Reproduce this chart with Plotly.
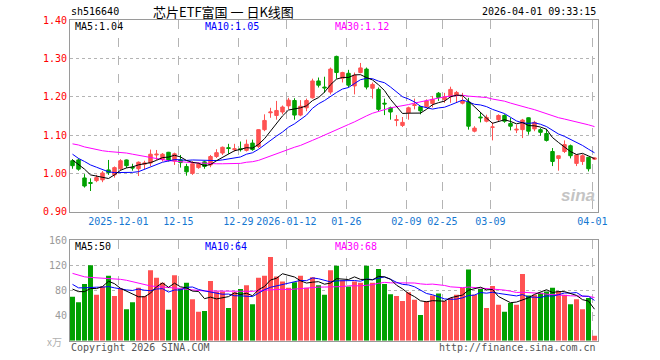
import plotly.graph_objects as go
import pandas as pd

# ---------------- data ----------------
opens = [1.033, 1.035, 0.988, 0.976, 0.981, 0.983, 1.009, 0.996, 1.012, 1.035,
         1.016, 1.012, 1.024, 1.027, 1.048, 1.036, 1.055, 1.032, 1.035, 1.018,
         1.000, 1.015, 1.030, 1.022, 1.044, 1.053, 1.067, 1.062, 1.064, 1.060,
         1.079, 1.070, 1.114, 1.158, 1.151, 1.160, 1.176, 1.190, 1.152, 1.171,
         1.197, 1.241, 1.225, 1.212, 1.305, 1.248, 1.261, 1.228, 1.263, 1.272,
         1.222, 1.219, 1.183, 1.171, 1.138, 1.125, 1.158, 1.177, 1.174, 1.174,
         1.182, 1.209, 1.193, 1.200, 1.204, 1.183, 1.186, 1.110, 1.147, 1.136,
         1.120, 1.140, 1.151, 1.130, 1.113, 1.114, 1.145, 1.116, 1.114, 1.104,
         1.057, 1.039, 1.057, 1.072, 1.026, 1.031, 1.042, 1.037]
highs = [1.037, 1.039, 0.998, 0.987, 0.996, 1.006, 1.035, 1.018, 1.037, 1.036,
         1.025, 1.031, 1.033, 1.062, 1.061, 1.053, 1.056, 1.054, 1.048, 1.025,
         1.032, 1.028, 1.033, 1.048, 1.063, 1.070, 1.077, 1.077, 1.083, 1.088,
         1.088, 1.115, 1.154, 1.171, 1.189, 1.177, 1.197, 1.196, 1.191, 1.195,
         1.247, 1.250, 1.252, 1.276, 1.307, 1.265, 1.270, 1.263, 1.288, 1.276,
         1.237, 1.224, 1.195, 1.174, 1.152, 1.147, 1.174, 1.195, 1.176, 1.193,
         1.202, 1.212, 1.210, 1.226, 1.215, 1.210, 1.197, 1.123, 1.160, 1.153,
         1.133, 1.154, 1.154, 1.145, 1.127, 1.142, 1.146, 1.137, 1.118, 1.116,
         1.066, 1.046, 1.086, 1.075, 1.050, 1.050, 1.043, 1.042]
lows = [1.012, 1.007, 0.963, 0.954, 0.977, 0.977, 0.996, 0.989, 1.007, 1.014,
        1.007, 0.993, 1.011, 1.019, 1.035, 1.031, 1.031, 1.022, 1.015, 0.994,
        0.996, 1.012, 1.012, 1.016, 1.040, 1.048, 1.051, 1.057, 1.057, 1.057,
        1.059, 1.066, 1.110, 1.145, 1.140, 1.154, 1.167, 1.140, 1.149, 1.162,
        1.195, 1.224, 1.210, 1.206, 1.247, 1.237, 1.224, 1.206, 1.261, 1.219,
        1.195, 1.162, 1.152, 1.140, 1.123, 1.121, 1.140, 1.167, 1.154, 1.171,
        1.172, 1.189, 1.184, 1.184, 1.184, 1.180, 1.114, 1.107, 1.133, 1.133,
        1.086, 1.136, 1.132, 1.112, 1.105, 1.092, 1.101, 1.110, 1.098, 1.083,
        1.019, 1.007, 1.053, 1.039, 1.019, 1.022, 1.005, 1.035]
closes = [1.020, 1.011, 0.967, 0.974, 0.989, 1.001, 1.002, 1.015, 1.033, 1.020,
          1.014, 1.029, 1.027, 1.050, 1.050, 1.050, 1.035, 1.051, 1.028, 1.004,
          1.025, 1.024, 1.018, 1.044, 1.054, 1.068, 1.065, 1.064, 1.062, 1.076,
          1.062, 1.114, 1.138, 1.160, 1.164, 1.173, 1.191, 1.152, 1.175, 1.190,
          1.241, 1.230, 1.223, 1.272, 1.263, 1.263, 1.230, 1.256, 1.275, 1.225,
          1.232, 1.167, 1.181, 1.160, 1.140, 1.133, 1.171, 1.179, 1.163, 1.189,
          1.193, 1.198, 1.199, 1.219, 1.211, 1.189, 1.123, 1.118, 1.145, 1.146,
          1.121, 1.151, 1.136, 1.123, 1.115, 1.139, 1.110, 1.133, 1.107, 1.086,
          1.031, 1.046, 1.075, 1.046, 1.048, 1.046, 1.012, 1.040]
volumes = [70, 61, 90, 120, 73, 86, 103, 71, 83, 50,
           61, 84, 71, 112, 100, 92, 49, 104, 83, 92,
           66, 46, 47, 95, 78, 78, 52, 77, 82, 88,
           58, 100, 103, 133, 102, 94, 84, 93, 103, 84,
           101, 88, 73, 112, 119, 96, 86, 94, 92, 119,
           92, 114, 90, 74, 71, 63, 77, 65, 41, 63,
           72, 75, 63, 68, 73, 84, 113, 73, 82, 52,
           87, 57, 46, 60, 57, 106, 72, 73, 76, 78,
           84, 79, 73, 58, 66, 50, 68, 8]

ma5_head = [1.035, 1.024, 1.011, 0.996]
ma10_head = [1.050, 1.039, 1.031, 1.022, 1.016, 1.009, 1.004, 1.002, 1.002]
ma30_head = [1.077, 1.074, 1.069, 1.065, 1.062, 1.059, 1.057, 1.056, 1.055, 1.053,
             1.050, 1.047, 1.043, 1.040, 1.038, 1.035, 1.033, 1.032, 1.030, 1.029,
             1.028, 1.027, 1.026, 1.025, 1.025, 1.025, 1.025, 1.025, 1.026]
vma5_head = [82, 78, 78, 83]
vma10_head = [89.5, 84, 84, 85, 85, 85, 86, 84, 82]
vma30_head = [107, 104, 101.5, 100.5, 100, 99, 98.5, 98, 97.5, 96,
              93.5, 91, 88.5, 87, 86, 85.5, 85, 84, 83, 81.5,
              80.5, 79.5, 79, 79, 79, 79, 79, 79, 79]

tick_idx = [8, 18, 28, 36, 46, 56, 62, 70, 87]
tick_labels = ["2025-12-01", "12-15", "12-29", "2026-01-12", "01-26",
               "02-09", "02-25", "03-09", "04-01"]
price_ticks = [0.90, 1.00, 1.10, 1.20, 1.30, 1.40]
vol_ticks = [40, 80, 120, 160]

title_code = "sh516640"
title_name = "芯片ETF富国 一 日K线图"
timestamp = "2026-04-01 09:33:15"
price_ma_text = ["MA5:1.04", "MA10:1.05", "MA30:1.12"]
vol_ma_text = ["MA5:50", "MA10:64", "MA30:68"]

# ---------------- helpers ----------------
def moving_avg(vals, n, head):
    s = pd.Series(vals, dtype=float).rolling(n).mean().tolist()
    return list(head) + s[len(head):]

W, H = 660, 360
X0, X1 = 70, 598
PY0, PY1 = 20, 211.7
VY0, VY1 = 240, 340.7

RED = "#ff5252"
GREEN = "#00a000"
MONO = "DejaVu Sans Mono, Liberation Mono, monospace"
GRID = "#b4b4b4"
BORDER = "#9a9a9a"

idx = list(range(len(closes)))
ma5 = moving_avg(closes, 5, ma5_head)
ma10 = moving_avg(closes, 10, ma10_head)
ma30 = moving_avg(closes, 30, ma30_head)
vma5 = moving_avg(volumes, 5, vma5_head)
vma10 = moving_avg(volumes, 10, vma10_head)
vma30 = moving_avg(volumes, 30, vma30_head)
vol_colors = [RED if c >= o else GREEN for o, c in zip(opens, closes)]

fig = go.Figure()
fig.add_trace(go.Candlestick(
    x=idx, open=opens, high=highs, low=lows, close=closes,
    increasing=dict(line=dict(color=RED, width=1), fillcolor=RED),
    decreasing=dict(line=dict(color=GREEN, width=1), fillcolor=GREEN),
    whiskerwidth=0, hoverinfo="skip", xaxis="x", yaxis="y", showlegend=False))
for vals, col in [(ma30, "#ff00ff"), (ma10, "#0000ff"), (ma5, "#000000")]:
    fig.add_trace(go.Scatter(x=idx, y=vals, mode="lines", line=dict(color=col, width=1),
                             hoverinfo="skip", xaxis="x", yaxis="y", showlegend=False))

fig.add_trace(go.Bar(x=idx, y=volumes, marker=dict(color=vol_colors, line=dict(width=0)),
                     hoverinfo="skip", xaxis="x2", yaxis="y2", showlegend=False))
for vals, col in [(vma30, "#ff00ff"), (vma10, "#0000ff"), (vma5, "#000000")]:
    fig.add_trace(go.Scatter(x=idx, y=vals, mode="lines", line=dict(color=col, width=1),
                             hoverinfo="skip", xaxis="x2", yaxis="y2", showlegend=False))

n = len(closes)
xr = [-0.4167, n - 0.4167]
grid_pos = [i - 0.35 for i in tick_idx]
xdom = [X0 / W, X1 / W]

common_x = dict(domain=xdom, range=xr, showgrid=True, gridcolor=GRID, griddash="dash",
                gridwidth=1, zeroline=False, showline=True, mirror=True, linecolor=BORDER,
                linewidth=1, ticks="", tickvals=grid_pos, fixedrange=True, automargin=False)
common_y = dict(showgrid=True, gridcolor=GRID, griddash="dot", zeroline=False,
                showline=True, mirror=True, linecolor=BORDER, linewidth=1, ticks="",
                fixedrange=True, automargin=False)
fig.update_layout(
    template="none",
    width=W, height=H, autosize=False,
    margin=dict(l=0, r=0, t=0, b=0, pad=0),
    paper_bgcolor="white", plot_bgcolor="white",
    bargap=0.17, boxgap=0.17, showlegend=False,
    xaxis=dict(**common_x, anchor="y", ticktext=tick_labels,
               tickfont=dict(family=MONO, size=10, color="#1577d1"),
               rangeslider=dict(visible=False)),
    yaxis=dict(**common_y, domain=[1 - PY1 / H, 1 - PY0 / H], range=[0.90, 1.40], anchor="x",
               tickvals=price_ticks, ticktext=[f"{v:.2f}" for v in price_ticks],
               tickfont=dict(family=MONO, size=10, color="#ff0000")),
    xaxis2=dict(**common_x, anchor="y2", showticklabels=False),
    yaxis2=dict(**common_y, domain=[1 - VY1 / H, 1 - VY0 / H], range=[0, 160], anchor="x2",
                tickvals=vol_ticks, ticktext=[str(v) for v in vol_ticks],
                tickfont=dict(family=MONO, size=10, color="#9a9a9a")),
)

def txt(x, y, s, color="#000", size=10, anchor="left", family=MONO, **kw):
    fig.add_annotation(x=x / W, y=1 - y / H, xref="paper", yref="paper", text=s,
                       showarrow=False, xanchor=anchor, yanchor="middle",
                       font=dict(family=family, size=size, color=color), **kw)

txt(69, 12, title_code)
txt(223, 12, title_name, size=13, anchor="center",
    family="Noto Sans CJK SC, Noto Sans, sans-serif")
txt(598, 12, timestamp, anchor="right")

txt(73, 27, price_ma_text[0])
txt(203, 27, price_ma_text[1], color="#0000ff")
txt(333, 27, price_ma_text[2], color="#ff00ff")
txt(73, 246, vol_ma_text[0])
txt(203, 246, vol_ma_text[1], color="#0000ff")
txt(333, 246, vol_ma_text[2], color="#ff00ff")

txt(64, 341, "x万", color="#b0b0b0", size=10, anchor="right",
    family="Noto Sans CJK SC, sans-serif")
txt(69, 347, "Copyright 2026 SINA.COM", color="#555")
txt(598, 347, "http://finance.sina.com.cn", color="#555", anchor="right")
txt(597, 196, "<b><i>sina</i></b>", color="#c4c4c4", size=17, anchor="right",
    family="Liberation Sans, sans-serif")

fig.write_html("out.html", include_plotlyjs=True, config={"displayModeBar": False},
               post_script="document.body.style.margin='0';")
